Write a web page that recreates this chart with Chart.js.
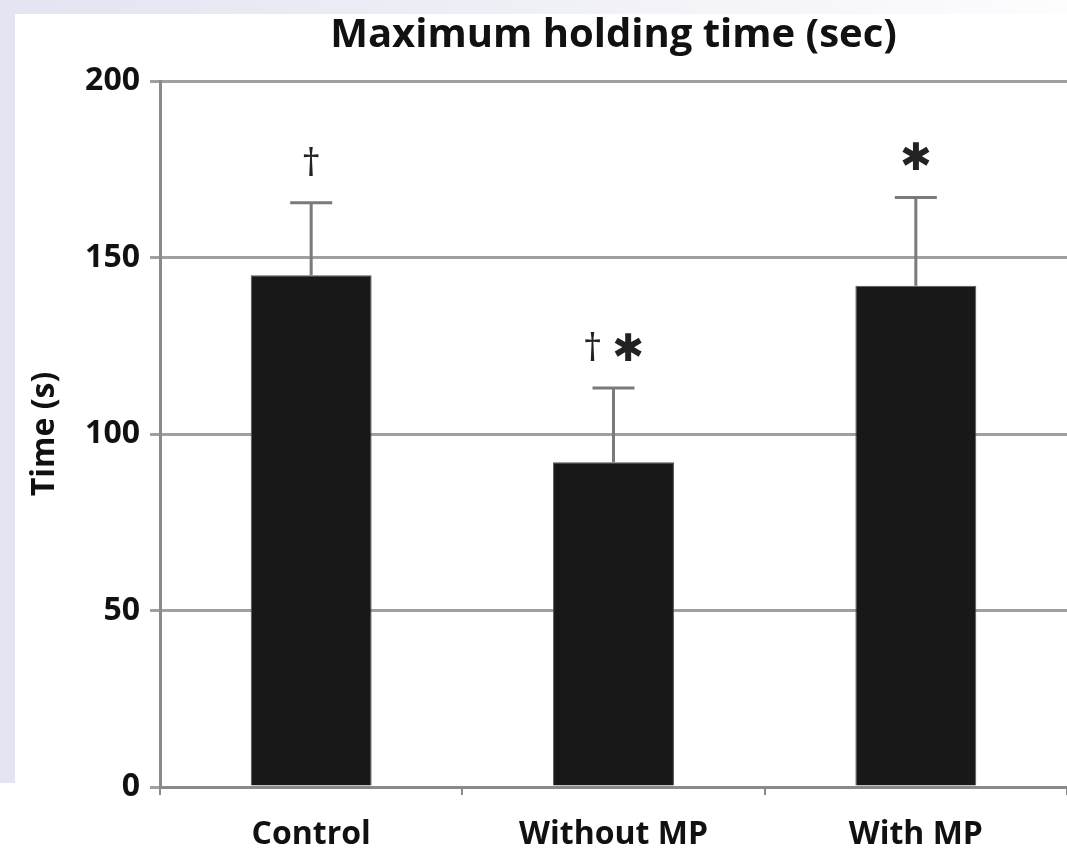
<!DOCTYPE html>
<html lang="en">
<head>
    <meta charset="UTF-8">
    <title>Maximum holding time (sec)</title>
    <script src="https://cdn.jsdelivr.net/npm/chart.js"></script>
    <style>
        html, body { margin: 0; padding: 0; background: #fff; }
        #wrap { position: relative; width: 1067px; height: 858px; overflow: hidden; }
        .strip-top { position: absolute; left: 0; top: 0; width: 1067px; height: 14px;
            background: linear-gradient(to right, #e4e4f2, #f2f2f8 60%, #fdfdfe); }
        .strip-left { position: absolute; left: 0; top: 0; width: 15px; height: 783px; background: #e4e4f2; }
        canvas { position: absolute; left: 0; top: 0; }
    </style>
</head>
<body>
<div id="wrap">
    <div class="strip-top"></div>
    <div class="strip-left"></div>
    <canvas id="chart" width="1067" height="858"></canvas>
</div>
<script>
// data
const groups = ['Control', 'Without MP', 'With MP'];
const meanTime = [145, 92, 142];
const errUp = [20.5, 21, 25];
const marks = ['\u2020', '\u2020 \u2731', '\u2731'];
const yTicks = [0, 50, 100, 150, 200];

const FONT = "'Open Sans', 'DejaVu Sans', sans-serif";

// upper error bars + significance marks
const errorBars = {
    id: 'errorBars',
    afterDatasetsDraw(chart) {
        const ctx = chart.ctx;
        const y = chart.scales.y;
        const bars = chart.getDatasetMeta(0).data;
        ctx.save();
        bars.forEach((bar, i) => {
            const y0 = y.getPixelForValue(meanTime[i]);
            const y1 = y.getPixelForValue(meanTime[i] + errUp[i]);
            ctx.strokeStyle = '#7a7a7a';
            ctx.lineWidth = 3;
            ctx.beginPath();
            ctx.moveTo(bar.x, y0);
            ctx.lineTo(bar.x, y1);
            ctx.moveTo(bar.x - 21, y1);
            ctx.lineTo(bar.x + 21, y1);
            ctx.stroke();

            ctx.fillStyle = '#222';
            ctx.font = '38px ' + FONT;
            ctx.textAlign = 'center';
            ctx.textBaseline = 'middle';
            ctx.fillText(marks[i], bar.x, y1 - 38);
        });
        ctx.restore();
    }
};

new Chart(document.getElementById('chart'), {
    type: 'bar',
    data: {
        labels: groups,
        datasets: [{
            data: meanTime,
            backgroundColor: '#181818',
            borderColor: '#555',
            borderWidth: 1,
            barPercentage: 0.8,
            categoryPercentage: 0.5
        }]
    },
    options: {
        responsive: false,
        animation: false,
        layout: { padding: 0 },
        plugins: {
            legend: { display: false },
            tooltip: { enabled: false },
            title: {
                display: true,
                fullSize: false,
                text: 'Maximum holding time (sec)',
                color: '#111',
                font: { family: FONT, size: 40, weight: 'bold', lineHeight: 1.2 },
                padding: { top: 12, bottom: 21 },
                align: 'center'
            }
        },
        scales: {
            x: {
                border: { display: true, color: '#8a8a8a', width: 3 },
                grid: { display: true, offset: true, drawOnChartArea: false, drawTicks: true,
                        tickLength: 8, color: '#8a8a8a', lineWidth: 2 },
                ticks: { color: '#111', padding: 21,
                         font: { family: FONT, size: 32, weight: 'bold' } },
                afterFit(scale) { scale.height = 71; }
            },
            y: {
                min: 0,
                max: 200,
                afterBuildTicks(scale) { scale.ticks = yTicks.map(v => ({ value: v })); },
                border: { display: true, color: '#8a8a8a', width: 3 },
                grid: { color: '#a0a0a0', lineWidth: 3, drawTicks: true, tickLength: 10 },
                ticks: { color: '#111', padding: 10,
                         font: { family: FONT, size: 32, weight: 'bold' } },
                title: {
                    display: true,
                    text: 'Time (s)',
                    color: '#111',
                    font: { family: FONT, size: 32, weight: 'bold' },
                    padding: { top: 26, bottom: 0 }
                },
                afterFit(scale) { scale.width = 160; }
            }
        }
    },
    plugins: [errorBars]
});
</script>
</body>
</html>
